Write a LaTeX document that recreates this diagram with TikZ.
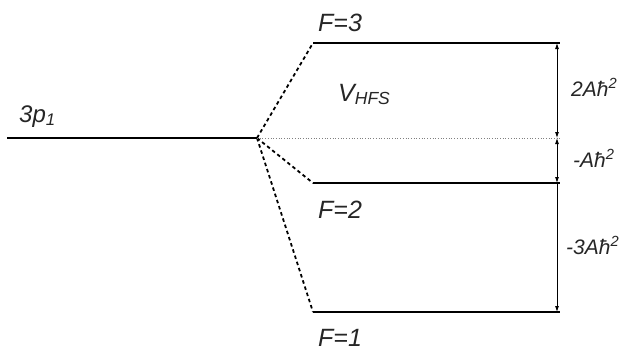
\documentclass[tikz,border=0pt]{standalone}
\usepackage{fontspec}
\setmainfont{Liberation Sans}
\usetikzlibrary{arrows.meta}
\tikzset{
  level/.style={line width=2.4pt, black},
  split/.style={line width=1.8pt, dash pattern=on 3.5pt off 3pt},
  gap/.style={line width=0.8pt, -{Latex[length=6pt,width=4pt]}},
  gapboth/.style={line width=0.8pt, {Latex[length=6pt,width=4pt]}-{Latex[length=6pt,width=4pt]}},
  lab/.style={font=\fontsize{25}{28}\selectfont\itshape, inner sep=0pt, anchor=base west, text=black!85},
  plab/.style={font=\fontsize{24}{28}\selectfont\itshape, inner sep=0pt, anchor=base west, text=black!85},
  elab/.style={font=\fontsize{21}{24}\selectfont\itshape, inner sep=0pt, anchor=base west, text=black!85},
}
\begin{document}
\begin{tikzpicture}[x=1pt,y=-1pt]
\useasboundingbox (0,0) rectangle (627,351);
% coordinates
\coordinate (L0) at (7,138);
\coordinate (C) at (257,138);
\coordinate (A3) at (313,43);  \coordinate (B3) at (560,43);
\coordinate (A2) at (313,183); \coordinate (B2) at (560,183);
\coordinate (A1) at (313,312); \coordinate (B1) at (560,312);
\coordinate (D) at (560,138);
\coordinate (T3) at (557,43);
\coordinate (T0) at (557,138);
\coordinate (T2) at (557,183);
\coordinate (T1) at (557,312);
% levels
\draw[level] (L0) -- (C);
\draw[level] (A3) -- (B3);
\draw[level] (A2) -- (B2);
\draw[level] (A1) -- (B1);
% splitting
\draw[split] (C) -- (A3);
\draw[split] (C) -- (A2);
\draw[split] (C) -- (A1);
\draw[gray, line width=0.7pt, dotted] (C) -- (D);
% gaps
\draw[gapboth] (T3) -- (T0);
\draw[gapboth] (T0) -- (T2);
\draw[gap] (T2) -- (T1);
% labels
\node[plab] (n3p) at (19,122) {3p\textsubscript{1}};
\node[lab] (nF3) at (318,31) {F=3};
\node[lab] (nV) at (338,101) {V\textsubscript{HFS}};
\node[lab] (nF2) at (318,218) {F=2};
\node[lab] (nF1) at (318,346) {F=1};
\node[elab] (e1) at (571,96) {2Aħ\textsuperscript{2}};
\node[elab] (e2) at (573,167) {-Aħ\textsuperscript{2}};
\node[elab] (e3) at (566,254) {-3Aħ\textsuperscript{2}};
\end{tikzpicture}
\end{document}
